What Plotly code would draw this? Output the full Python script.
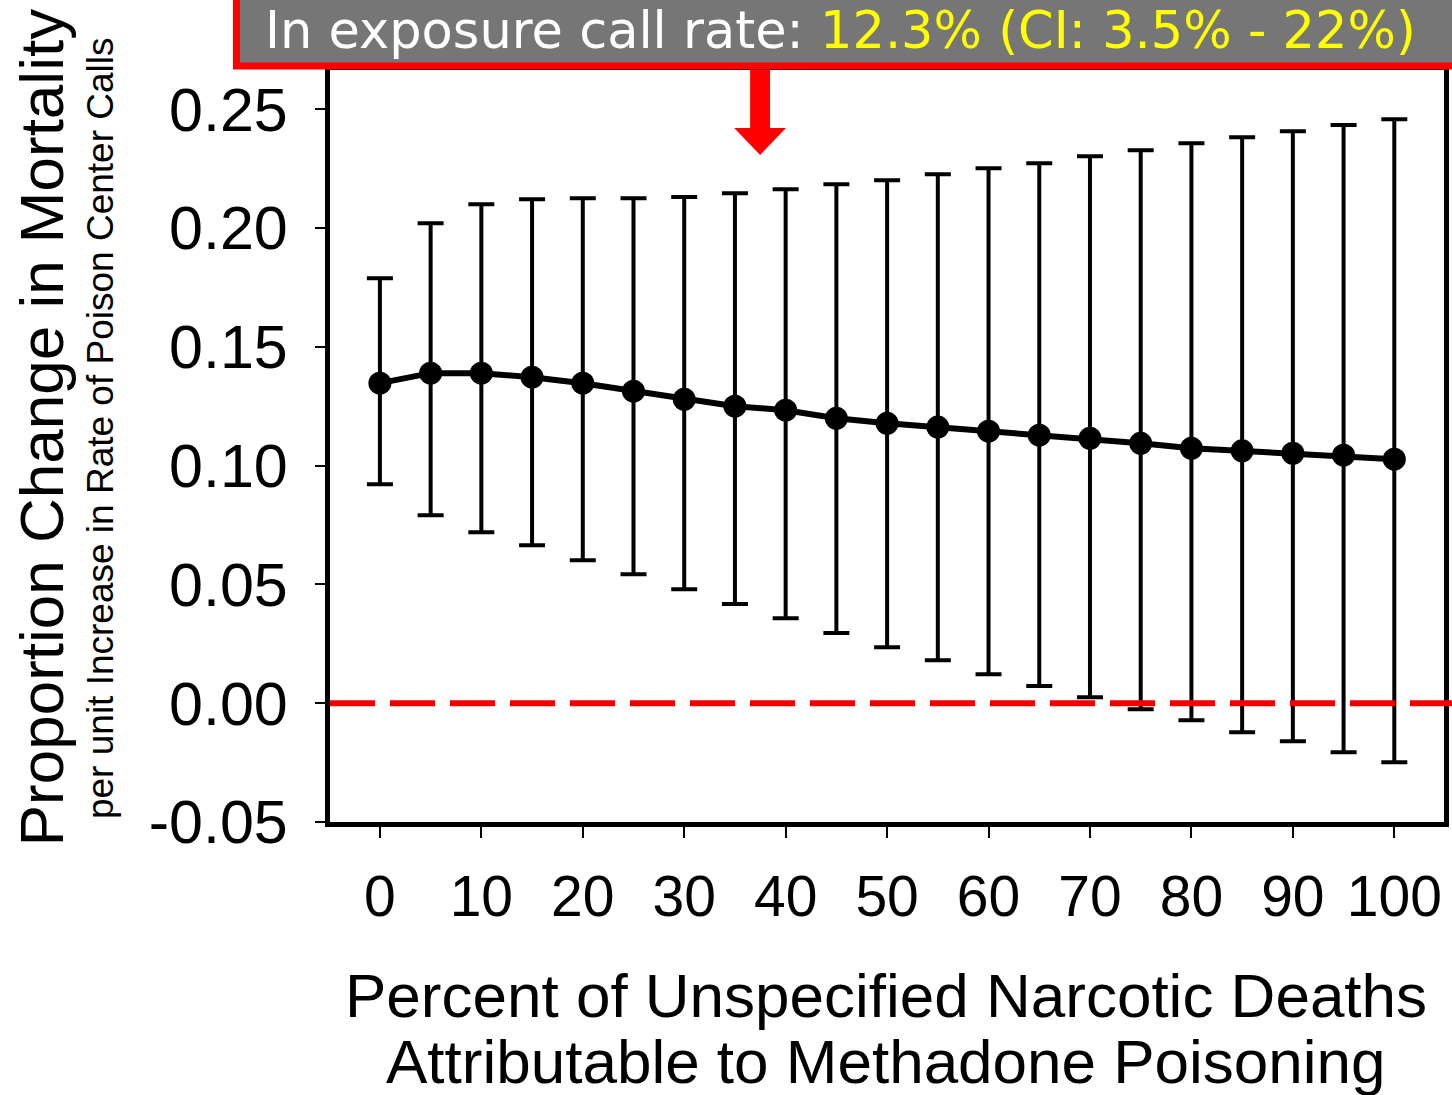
import plotly.graph_objects as go

# ---- data ----
pct_methadone = [0, 5, 10, 15, 20, 25, 30, 35, 40, 45, 50, 55, 60, 65, 70, 75, 80, 85, 90, 95, 100]
estimate = [0.1347, 0.1389, 0.1389, 0.1372, 0.1347, 0.1313, 0.1279, 0.1250, 0.1233, 0.1199, 0.1178,
            0.1162, 0.1145, 0.1128, 0.1115, 0.1094, 0.1073, 0.1062, 0.1052, 0.1044, 0.1027]
ci_upper = [0.1789, 0.2020, 0.2100, 0.2121, 0.2125, 0.2125, 0.2130, 0.2146, 0.2163, 0.2184, 0.2201,
            0.2226, 0.2252, 0.2273, 0.2302, 0.2327, 0.2357, 0.2382, 0.2407, 0.2433, 0.2458]
ci_lower = [0.0922, 0.0791, 0.0720, 0.0665, 0.0602, 0.0543, 0.0480, 0.0417, 0.0358, 0.0295, 0.0236,
            0.0181, 0.0122, 0.0072, 0.0025, -0.0025, -0.0072, -0.0122, -0.0160, -0.0206, -0.0248]
x_tickvals = [0, 10, 20, 30, 40, 50, 60, 70, 80, 90, 100]
x_ticktext = ["0", "10", "20", "30", "40", "50", "60", "70", "80", "90", "100"]
y_tickvals = [-0.05, 0.0, 0.05, 0.10, 0.15, 0.20, 0.25]
y_ticktext = ["-0.05", "0.00", "0.05", "0.10", "0.15", "0.20", "0.25"]
reference_line = 0.0

y_title = "Proportion Change in Mortality"
y_subtitle = "per unit Increase in Rate of Poison Center Calls"
x_title_1 = "Percent of Unspecified Narcotic Deaths"
x_title_2 = "Attributable to Methadone Poisoning"
banner_white = "In exposure call rate: "
banner_yellow = "12.3% (CI: 3.5% - 22%)"

# ---- layout geometry (pixels) ----
W, H = 1452, 1095
L, R, T, B = 330, 1449, 70, 822
PW, PH = R - L, B - T


def px(x):
    return (x - L) / PW


def py(y):
    return (B - y) / PH


FONT = "Liberation Sans, Arial, sans-serif"

err_plus = [u - m for u, m in zip(ci_upper, estimate)]
err_minus = [m - l for m, l in zip(estimate, ci_lower)]

fig = go.Figure()
fig.add_trace(go.Scatter(
    x=pct_methadone, y=estimate, mode="lines+markers",
    line=dict(color="black", width=6),
    marker=dict(color="black", size=23, symbol="circle"),
    error_y=dict(type="data", symmetric=False, array=err_plus, arrayminus=err_minus,
                 color="black", thickness=4, width=13),
    showlegend=False,
))

shapes = [
    dict(type="line", xref="paper", yref="y", x0=0, x1=1.01, y0=reference_line, y1=reference_line,
         line=dict(color="#F20000", width=6, dash="45px,15px"), layer="above"),
    dict(type="rect", xref="paper", yref="paper", x0=px(236), x1=px(1462), y0=py(66), y1=py(-10),
         fillcolor="#767676", line=dict(color="#FF0000", width=7), layer="above"),
    dict(type="path", xref="paper", yref="paper", layer="above",
         path="M {a},{b} L {c},{b} L {c},{d} L {e},{d} L {f},{g} L {h},{d} L {i},{d} Z".format(
             a=px(752), b=py(70), c=px(772), d=py(128), e=px(788), f=px(762), g=py(155),
             h=px(736), i=px(752)),
         fillcolor="#FF0000", line=dict(width=0)),
]

annotations = [
    dict(xref="paper", yref="paper", x=px(843), y=py(30), xanchor="center", yanchor="middle",
         text=banner_white + "<span style='color:#FFFF00'>" + banner_yellow + "</span>",
         showarrow=False, font=dict(family="DejaVu Sans, sans-serif", size=51, color="white")),
    dict(xref="paper", yref="paper", x=px(40), y=py(428), xanchor="center", yanchor="middle",
         text=y_title, textangle=-90, showarrow=False,
         font=dict(family=FONT, size=62, color="black")),
    dict(xref="paper", yref="paper", x=px(99), y=py(428), xanchor="center", yanchor="middle",
         text=y_subtitle, textangle=-90, showarrow=False,
         font=dict(family=FONT, size=37, color="black")),
    dict(xref="paper", yref="paper", x=px(888), y=py(995), xanchor="center", yanchor="middle",
         text=x_title_1, showarrow=False, font=dict(family=FONT, size=62, color="black")),
    dict(xref="paper", yref="paper", x=px(888), y=py(1061), xanchor="center", yanchor="middle",
         text=x_title_2, showarrow=False, font=dict(family=FONT, size=62, color="black")),
]

fig.update_layout(
    width=W, height=H,
    margin=dict(l=L, r=W - R, t=T, b=H - B, pad=0),
    paper_bgcolor="white", plot_bgcolor="white",
    shapes=shapes, annotations=annotations,
    xaxis=dict(range=[-4.92, 104.9], tickvals=x_tickvals, ticktext=x_ticktext,
               showgrid=False, zeroline=False, showline=True, linecolor="black", linewidth=5,
               mirror=True, ticks="outside", ticklen=11, tickwidth=2, tickcolor="black",
               ticklabelstandoff=10,
               tickfont=dict(family=FONT, size=57, color="black")),
    yaxis=dict(range=[-0.05, 0.2665], tickvals=y_tickvals, ticktext=y_ticktext,
               showgrid=False, zeroline=False, showline=True, linecolor="black", linewidth=5,
               mirror=True, ticks="outside", ticklen=10, tickwidth=2, tickcolor="black",
               ticklabelstandoff=15,
               tickfont=dict(family=FONT, size=61, color="black")),
)

fig.write_html("out.html")
